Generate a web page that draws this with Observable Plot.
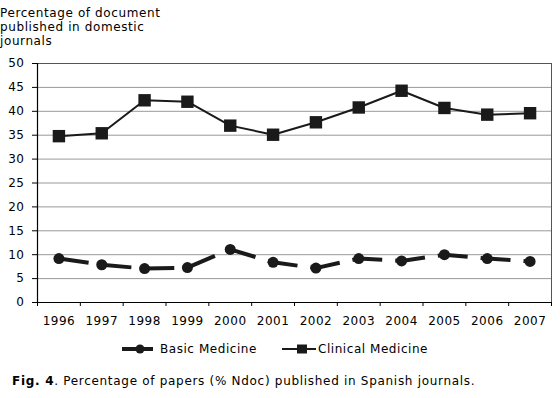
<!DOCTYPE html>
<html><head><meta charset="utf-8">
<script src="https://cdn.jsdelivr.net/npm/d3@7"></script>
<script src="https://cdn.jsdelivr.net/npm/@observablehq/plot@0.6"></script>
<style>
body{margin:0;background:#fff;font-family:"DejaVu Sans",Verdana,sans-serif;color:#000;}
#wrap{position:relative;width:560px;height:398px;overflow:hidden;}
#title{position:absolute;left:0;top:6px;font-size:12px;line-height:14.2px;letter-spacing:0.6px;}
#chart{position:absolute;left:0;top:50px;}
#legend{position:absolute;left:0;top:340px;width:560px;height:18px;}
#caption{position:absolute;left:12px;top:374px;font-size:12px;letter-spacing:0.7px;white-space:nowrap;}
</style></head><body>
<div id="wrap">
  <div id="title">Percentage of document<br>published in domestic<br>journals</div>
  <div id="chart"></div>
  <div id="legend">
    <svg width="560" height="18" style="position:absolute;left:0;top:0;overflow:visible;font-family:'DejaVu Sans',Verdana,sans-serif;font-size:12px;letter-spacing:0.55px">
      <line x1="122" x2="153" y1="9" y2="9" stroke="#1a1a1a" stroke-width="4"/>
      <circle cx="140" cy="9" r="4.5" fill="#1a1a1a"/>
      <text x="160" y="13.3">Basic Medicine</text>
      <line x1="282" x2="316" y1="9" y2="9" stroke="#1a1a1a" stroke-width="2"/>
      <rect x="297" y="4.5" width="10" height="9" fill="#1a1a1a"/>
      <text x="318" y="13.3">Clinical Medicine</text>
    </svg>
  </div>
  <div id="caption"><b>Fig. 4</b>. Percentage of papers (% Ndoc) published in Spanish journals.</div>
</div>
<script>
const years = [1996,1997,1998,1999,2000,2001,2002,2003,2004,2005,2006,2007];
const basicMedicine = [9.2,7.9,7.1,7.3,11.1,8.4,7.2,9.2,8.7,10.0,9.2,8.6];
const clinicalMedicine = [34.8,35.4,42.3,42.0,37.0,35.1,37.7,40.8,44.3,40.7,39.3,39.6];
const yTicks = [0,5,10,15,20,25,30,35,40,45,50];

const basicData = years.map((y,i)=>({year:y, value:basicMedicine[i]}));
const clinicalData = years.map((y,i)=>({year:y, value:clinicalMedicine[i]}));
const boundaries = [...years.map(y=>y-0.5), years[years.length-1]+0.5];
const ink = "#1a1a1a";

const chart = Plot.plot({
  width: 560,
  height: 282,
  marginTop: 13,
  marginBottom: 30,
  marginLeft: 37,
  marginRight: 9,
  style: {fontFamily: "DejaVu Sans, Verdana, sans-serif", fontSize: "12px", letterSpacing: "0.5px", color: "#000", background: "#fff"},
  x: {domain: [boundaries[0], boundaries[boundaries.length-1]]},
  y: {domain: [0, 50]},
  marks: [
    Plot.gridY(yTicks, {stroke: "#999", strokeOpacity: 1, strokeWidth: 1}),
    Plot.frame({stroke: "#555", strokeWidth: 1}),
    Plot.ruleY([yTicks[0]], {stroke: "#000", strokeWidth: 1.2}),
    Plot.ruleX([boundaries[0]], {stroke: "#000", strokeWidth: 1.2}),
    Plot.axisY(yTicks, {tickSize: 5, tickPadding: 8, label: null, fill: "#000", stroke: "#000"}),
    Plot.axisX(boundaries, {tickSize: 4, tickFormat: () => "", label: null, stroke: "#000"}),
    Plot.axisX(years, {tickSize: 0, tickPadding: 14, tickFormat: d => String(d), label: null, fill: "#000"}),
    Plot.line(clinicalData, {x: "year", y: "value", stroke: ink, strokeWidth: 2}),
    Plot.dot(clinicalData, {x: "year", y: "value", symbol: "square", r: 7, fill: ink, stroke: "none"}),
    Plot.line(basicData, {x: "year", y: "value", stroke: ink, strokeWidth: 4, strokeDasharray: "30,13", strokeLinecap: "butt"}),
    Plot.dot(basicData, {x: "year", y: "value", symbol: "circle", r: 5.5, fill: ink, stroke: "none"})
  ]
});
document.getElementById("chart").appendChild(chart);
</script>
</body></html>
